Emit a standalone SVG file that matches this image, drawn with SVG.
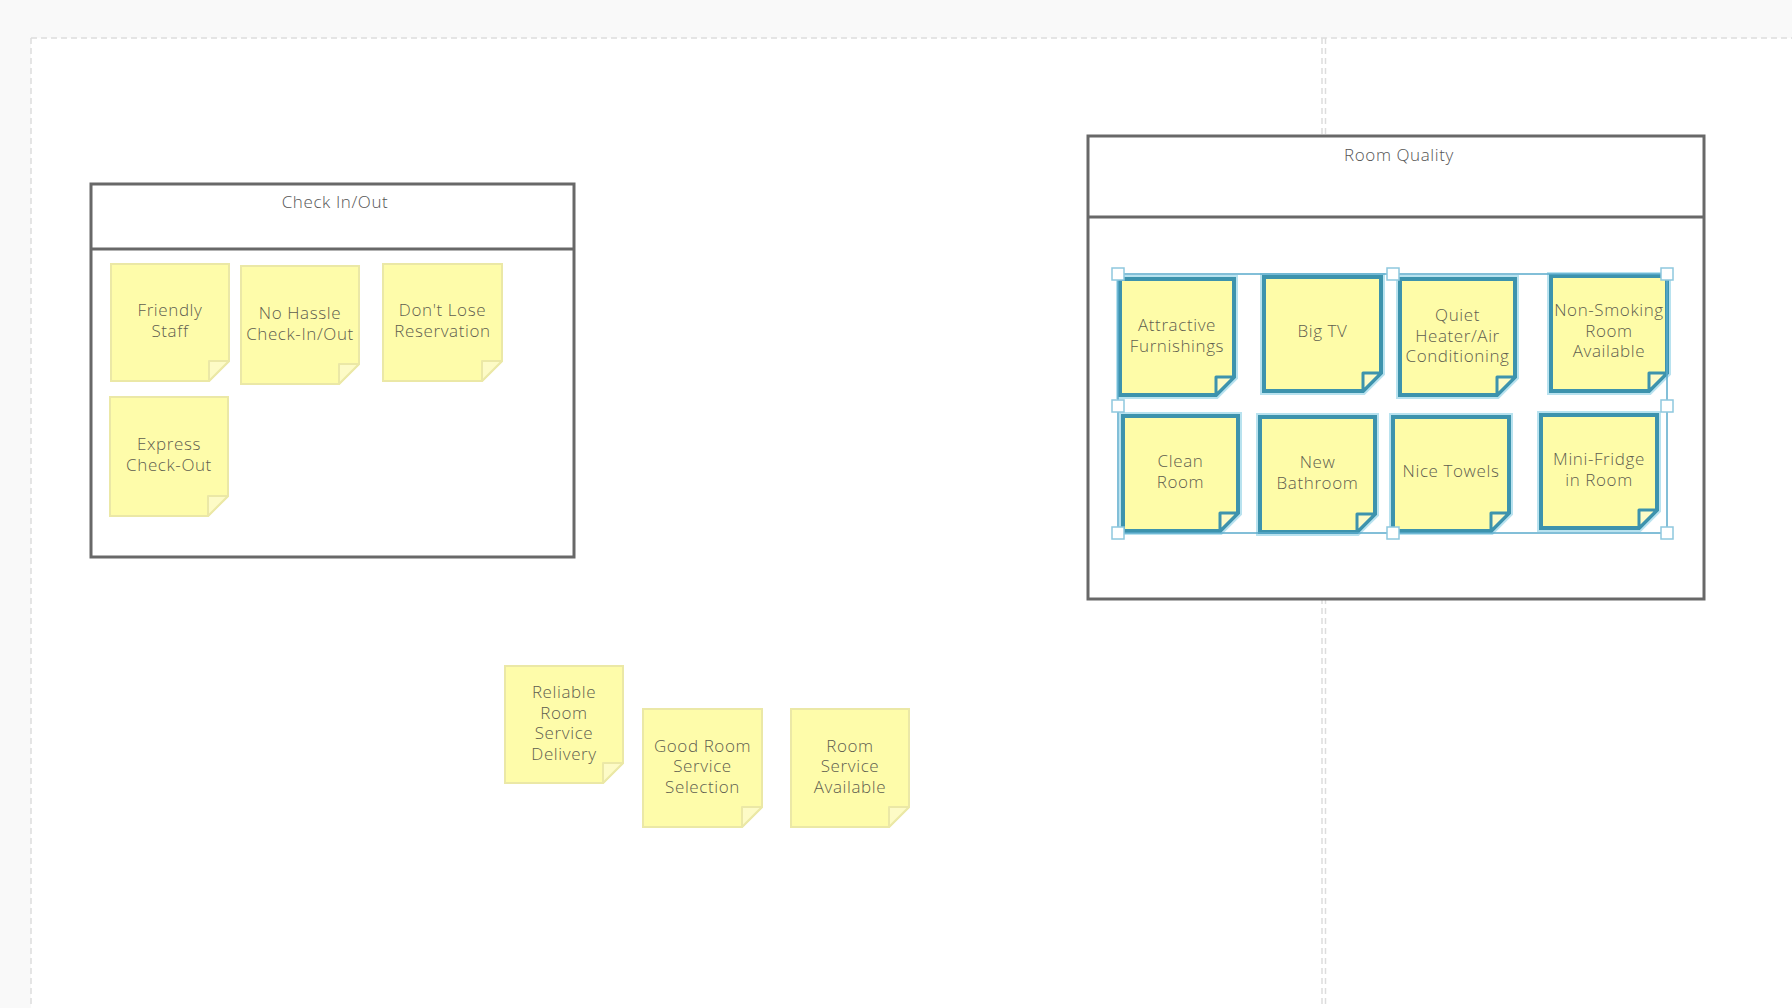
<svg xmlns="http://www.w3.org/2000/svg" width="1792" height="1008" viewBox="0 0 1792 1008">
<style>
.bg{fill:#f9f9f9}
.canvas{fill:#ffffff}
.grid{stroke:#dddddd;stroke-width:1.5;stroke-dasharray:6 4;fill:none}
.cont{fill:#ffffff;stroke:#686868;stroke-width:3}
.div{stroke:#686868;stroke-width:3}
.title{font-family:"Open Sans","Liberation Sans",sans-serif;font-size:17px;font-weight:300;letter-spacing:0.6px;fill:#555555;text-anchor:middle}
.lbl{font-family:"Open Sans","Liberation Sans",sans-serif;font-size:17px;font-weight:300;letter-spacing:0.6px;fill:#5e5e50;text-anchor:middle}
.note{fill:#fefcaa;stroke:#ebe8a6;stroke-width:2}
.fold{fill:#fdfbc6;stroke:#ebe8a6;stroke-width:2;stroke-linejoin:round}
.selglow{fill:none;stroke:#b8e2ef;stroke-width:8}
.selnote{fill:#fefca8;stroke:#3d93ad;stroke-width:4}
.selfold{fill:#fdfbc6;stroke:#3d93ad;stroke-width:3;stroke-linejoin:round}
.selbox{fill:none;stroke:#5aaacb;stroke-width:1.5}
.handle{fill:#ffffff;stroke:#8ec8de;stroke-width:1.5}
</style>
<rect class="bg" x="0" y="0" width="1792" height="1008"/>
<rect class="canvas" x="31" y="38" width="1761" height="970"/>
<g id="grid">
<line class="grid" x1="31" y1="38" x2="1792" y2="38"/>
<line class="grid" x1="31" y1="38" x2="31" y2="1008"/>
<line class="grid" x1="1322" y1="38" x2="1322" y2="1008"/>
<line class="grid" x1="1325.5" y1="38" x2="1325.5" y2="1008"/>
</g>

<g id="check-in-out">
<rect class="cont" x="91" y="184" width="483" height="373"/>
<line class="div" x1="91" y1="249" x2="574" y2="249"/>
<text class="title" x="335" y="208">Check In/Out</text>
</g>

<g id="room-quality">
<rect class="cont" x="1088" y="136" width="616" height="463"/>
<line class="div" x1="1088" y1="217" x2="1704" y2="217"/>
<text class="title" x="1399" y="161">Room Quality</text>
</g>

<g id="friendly-staff">
<path class="note" d="M111 264H229V361L209 381H111Z"/>
<path class="fold" d="M209 381V361H229Z"/>
<text class="lbl" x="170" y="316"><tspan x="170">Friendly</tspan><tspan x="170" dy="20.5">Staff</tspan></text>
</g>
<g id="no-hassle">
<path class="note" d="M241 266H359V364L339 384H241Z"/>
<path class="fold" d="M339 384V364H359Z"/>
<text class="lbl" x="300" y="319"><tspan x="300">No Hassle</tspan><tspan x="300" dy="20.5">Check-In/Out</tspan></text>
</g>
<g id="dont-lose">
<path class="note" d="M383 264H502V361L482 381H383Z"/>
<path class="fold" d="M482 381V361H502Z"/>
<text class="lbl" x="442.5" y="316"><tspan x="442.5">Don't Lose</tspan><tspan x="442.5" dy="20.5">Reservation</tspan></text>
</g>
<g id="express-checkout">
<path class="note" d="M110 397H228V496L208 516H110Z"/>
<path class="fold" d="M208 516V496H228Z"/>
<text class="lbl" x="169" y="450"><tspan x="169">Express</tspan><tspan x="169" dy="20.5">Check-Out</tspan></text>
</g>

<g id="attractive-furnishings">
<path class="selglow" d="M1120 279H1234V377L1216 395H1120Z"/>
<path class="selnote" d="M1120 279H1234V377L1216 395H1120Z"/>
<path class="selfold" d="M1216 395V377H1234Z"/>
<text class="lbl" x="1177" y="331"><tspan x="1177">Attractive</tspan><tspan x="1177" dy="20.5">Furnishings</tspan></text>
</g>
<g id="big-tv">
<path class="selglow" d="M1264 277H1381V373L1363 391H1264Z"/>
<path class="selnote" d="M1264 277H1381V373L1363 391H1264Z"/>
<path class="selfold" d="M1363 391V373H1381Z"/>
<text class="lbl" x="1322.5" y="337">Big TV</text>
</g>
<g id="quiet-heater">
<path class="selglow" d="M1400 279H1515V377L1497 395H1400Z"/>
<path class="selnote" d="M1400 279H1515V377L1497 395H1400Z"/>
<path class="selfold" d="M1497 395V377H1515Z"/>
<text class="lbl" x="1457.5" y="321"><tspan x="1457.5">Quiet</tspan><tspan x="1457.5" dy="20.5">Heater/Air</tspan><tspan x="1457.5" dy="20.5">Conditioning</tspan></text>
</g>
<g id="non-smoking">
<path class="selglow" d="M1551 276H1667V373L1649 391H1551Z"/>
<path class="selnote" d="M1551 276H1667V373L1649 391H1551Z"/>
<path class="selfold" d="M1649 391V373H1667Z"/>
<text class="lbl" x="1609" y="316"><tspan x="1609">Non-Smoking</tspan><tspan x="1609" dy="20.5">Room</tspan><tspan x="1609" dy="20.5">Available</tspan></text>
</g>
<g id="clean-room">
<path class="selglow" d="M1123 416H1238V513L1220 531H1123Z"/>
<path class="selnote" d="M1123 416H1238V513L1220 531H1123Z"/>
<path class="selfold" d="M1220 531V513H1238Z"/>
<text class="lbl" x="1180.5" y="467"><tspan x="1180.5">Clean</tspan><tspan x="1180.5" dy="20.5">Room</tspan></text>
</g>
<g id="new-bathroom">
<path class="selglow" d="M1260 417H1375V514L1357 532H1260Z"/>
<path class="selnote" d="M1260 417H1375V514L1357 532H1260Z"/>
<path class="selfold" d="M1357 532V514H1375Z"/>
<text class="lbl" x="1317.5" y="468"><tspan x="1317.5">New</tspan><tspan x="1317.5" dy="20.5">Bathroom</tspan></text>
</g>
<g id="nice-towels">
<path class="selglow" d="M1393 417H1509V513L1491 531H1393Z"/>
<path class="selnote" d="M1393 417H1509V513L1491 531H1393Z"/>
<path class="selfold" d="M1491 531V513H1509Z"/>
<text class="lbl" x="1451" y="477">Nice Towels</text>
</g>
<g id="mini-fridge">
<path class="selglow" d="M1541 415H1657V510L1639 528H1541Z"/>
<path class="selnote" d="M1541 415H1657V510L1639 528H1541Z"/>
<path class="selfold" d="M1639 528V510H1657Z"/>
<text class="lbl" x="1599" y="465"><tspan x="1599">Mini-Fridge</tspan><tspan x="1599" dy="20.5">in Room</tspan></text>
</g>

<g id="selection">
<rect class="selbox" x="1118" y="274" width="549" height="259"/>
<rect class="handle" x="1112" y="268" width="12" height="12"/>
<rect class="handle" x="1387" y="268" width="12" height="12"/>
<rect class="handle" x="1661" y="268" width="12" height="12"/>
<rect class="handle" x="1112" y="400" width="12" height="12"/>
<rect class="handle" x="1661" y="400" width="12" height="12"/>
<rect class="handle" x="1112" y="527" width="12" height="12"/>
<rect class="handle" x="1387" y="527" width="12" height="12"/>
<rect class="handle" x="1661" y="527" width="12" height="12"/>
</g>

<g id="reliable-room-service">
<path class="note" d="M505 666H623V763L603 783H505Z"/>
<path class="fold" d="M603 783V763H623Z"/>
<text class="lbl" x="564" y="698"><tspan x="564">Reliable</tspan><tspan x="564" dy="20.5">Room</tspan><tspan x="564" dy="20.5">Service</tspan><tspan x="564" dy="20.5">Delivery</tspan></text>
</g>
<g id="good-room-service">
<path class="note" d="M643 709H762V807L742 827H643Z"/>
<path class="fold" d="M742 827V807H762Z"/>
<text class="lbl" x="702.5" y="751.5"><tspan x="702.5">Good Room</tspan><tspan x="702.5" dy="20.5">Service</tspan><tspan x="702.5" dy="20.5">Selection</tspan></text>
</g>
<g id="room-service-available">
<path class="note" d="M791 709H909V807L889 827H791Z"/>
<path class="fold" d="M889 827V807H909Z"/>
<text class="lbl" x="850" y="751.5"><tspan x="850">Room</tspan><tspan x="850" dy="20.5">Service</tspan><tspan x="850" dy="20.5">Available</tspan></text>
</g>
</svg>
